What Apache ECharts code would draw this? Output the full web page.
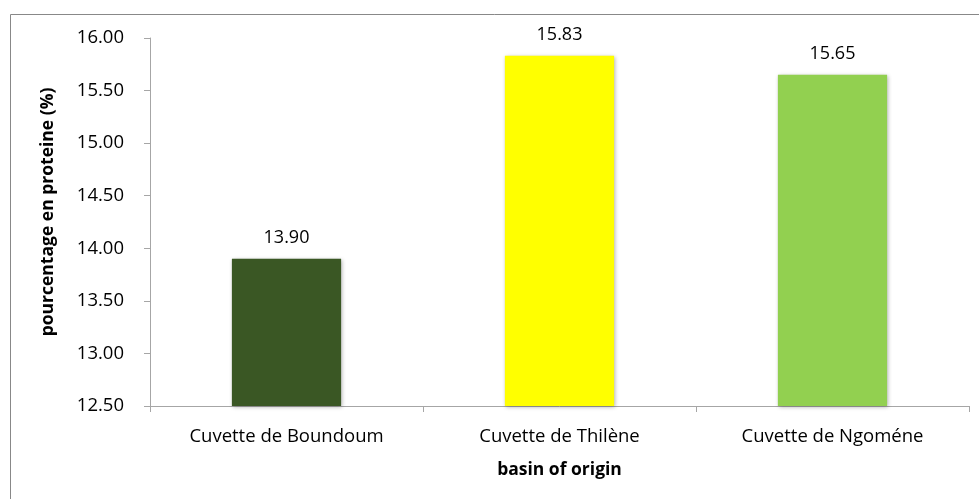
<!DOCTYPE html>
<html><head><meta charset="utf-8">
<script src="https://cdn.jsdelivr.net/npm/echarts@6/dist/echarts.min.js"></script>
<style>html,body{margin:0;padding:0;background:#fff}#c{width:979px;height:499px}</style>
</head><body><div id="c"></div>
<script>
const categories = ["Cuvette de Boundoum", "Cuvette de Thilène", "Cuvette de Ngoméne"];
const values = [13.90, 15.83, 15.65];
const barColors = ["#3A5724", "#FFFF00", "#92D050"];
const yTicks = { min: 12.5, max: 16.0, interval: 0.5 };

const chart = echarts.init(document.getElementById('c'));
const font = "'Open Sans', 'Liberation Sans', sans-serif";
chart.setOption({
  animation: false,
  backgroundColor: '#fff',
  graphic: [
    { type: 'line', shape: { x1: 10.5, y1: 14.5, x2: 979, y2: 14.5 }, style: { stroke: '#888', lineWidth: 1 } },
    { type: 'line', shape: { x1: 10.5, y1: 14.5, x2: 10.5, y2: 499 }, style: { stroke: '#888', lineWidth: 1 } }
  ],
  grid: { left: 150, right: 10, top: 38, bottom: 93 },
  xAxis: {
    type: 'category',
    data: categories,
    name: 'basin of origin',
    nameLocation: 'middle',
    nameGap: 55,
    nameTextStyle: { fontFamily: font, fontWeight: 'bold', fontSize: 17.5, color: '#000' },
    axisLine: { lineStyle: { color: '#a6a6a6', width: 1 } },
    axisTick: { show: true, alignWithLabel: false, length: 6, lineStyle: { color: '#a6a6a6' } },
    axisLabel: { fontFamily: font, fontSize: 18.5, color: '#000', margin: 21 }
  },
  yAxis: {
    type: 'value',
    min: yTicks.min, max: yTicks.max, interval: yTicks.interval,
    name: 'pourcentage en proteine (%)',
    nameLocation: 'middle',
    nameGap: 93,
    nameTextStyle: { fontFamily: font, fontWeight: 'bold', fontSize: 17.5, color: '#000', padding: [0, 0, 0, 20] },
    axisLine: { show: true, lineStyle: { color: '#a6a6a6', width: 1 } },
    axisTick: { show: true, length: 6, lineStyle: { color: '#a6a6a6' } },
    splitLine: { show: false },
    axisLabel: { fontFamily: font, fontSize: 18.5, color: '#000', margin: 26, formatter: v => v.toFixed(2) }
  },
  series: [{
    type: 'bar',
    barWidth: '40%',
    data: values.map((v, i) => ({ value: v, itemStyle: { color: barColors[i] } })),
    itemStyle: { shadowColor: 'rgba(0,0,0,0.3)', shadowBlur: 4, shadowOffsetX: 1, shadowOffsetY: 1 },
    label: { show: true, position: 'top', distance: 12, fontFamily: font, fontSize: 18, color: '#000', formatter: p => p.value.toFixed(2) }
  }]
});
</script></body></html>
